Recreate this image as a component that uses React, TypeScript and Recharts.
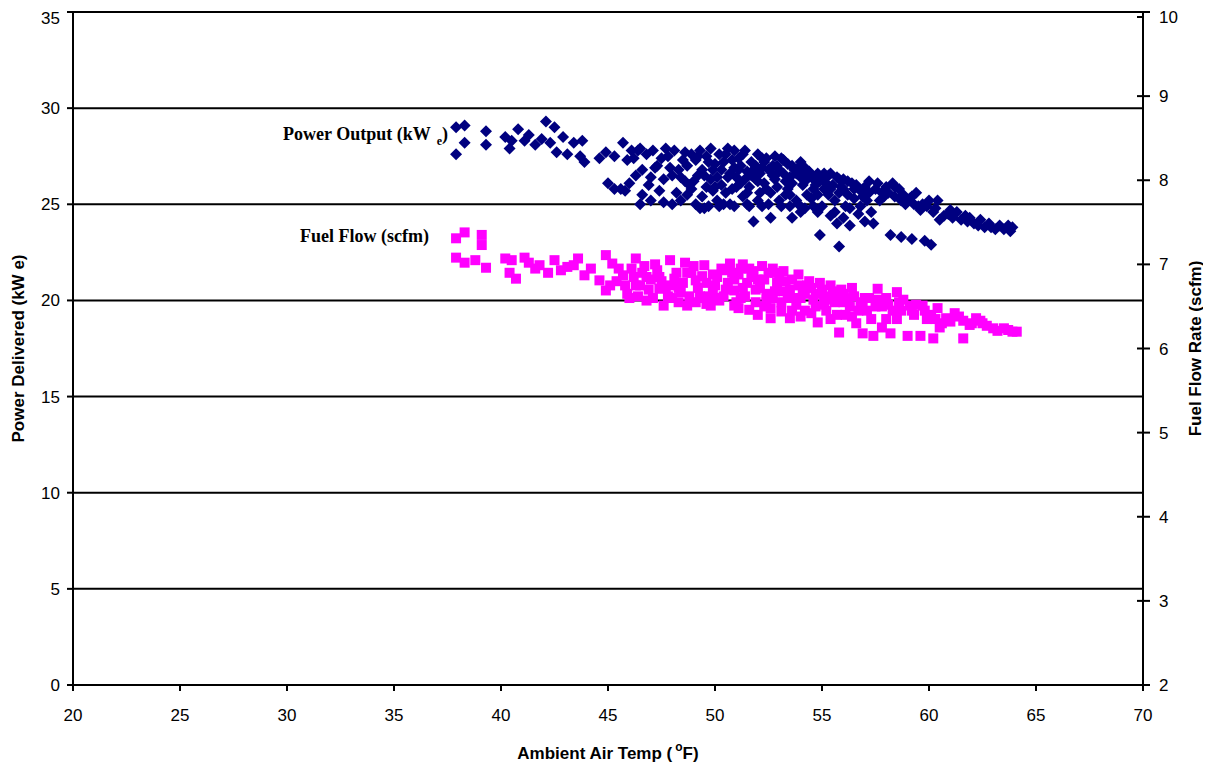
import { ScatterChart, Scatter, XAxis, YAxis, CartesianGrid, Label } from 'recharts';

// ambient temp (F), power delivered (kWe)
const powerOutput: [number, number][] = [
  [37.9, 29.0], [38.3, 29.1], [38.3, 28.2], [37.9, 27.6], [39.3, 28.8], [39.3, 28.1],
  [40.2, 28.5], [40.5, 28.3], [40.8, 28.9], [40.4, 27.9], [41.1, 28.3], [41.3, 28.6], [41.6, 28.1],
  [41.9, 28.4], [42.1, 29.3], [42.3, 28.2], [42.5, 29.0], [42.6, 27.7], [42.9, 28.5], [43.1, 27.6],
  [43.4, 28.2], [43.7, 27.5], [43.8, 28.3], [43.9, 27.2],
  [44.6, 27.4], [44.9, 27.7], [45.3, 27.5], [45.7, 28.2], [45.0, 26.1], [45.3, 25.8], [45.6, 25.8],
  [45.8, 25.7], [46.0, 26.1], [46.2, 27.4], [46.4, 27.8], [46.5, 27.9], [46.6, 26.8], [46.6, 25.5],
  [46.5, 25.0], [46.8, 27.6], [47.0, 26.4], [47.1, 27.8], [47.3, 27.0], [47.4, 25.7], [47.6, 25.1],
  [47.7, 27.9], [47.8, 27.5], [48.0, 26.5], [48.2, 25.6], [48.4, 25.2], [48.5, 27.3], [48.6, 26.2],
  [48.8, 26.0], [48.9, 27.6], [49.1, 25.0], [49.2, 26.5], [49.3, 27.8], [49.4, 26.8], [49.5, 24.8],
  [49.6, 25.9], [49.8, 27.9], [49.8, 26.3], [49.9, 25.7], [50.0, 27.1], [50.1, 25.2], [50.2, 27.6],
  [50.3, 26.0], [50.5, 27.6], [50.6, 26.4], [50.7, 25.0], [50.9, 27.8], [50.9, 26.9],
  [51.1, 27.4], [51.2, 26.1], [51.3, 25.4], [51.4, 27.8], [51.5, 26.7], [51.6, 24.9], [51.7, 27.2],
  [51.8, 24.1], [51.9, 26.3], [52.0, 27.6], [52.1, 25.6], [52.2, 26.9], [52.4, 27.4], [52.5, 25.0],
  [52.6, 24.3], [52.7, 26.5], [52.8, 27.5], [52.9, 25.9], [53.0, 26.8], [53.1, 24.9], [53.2, 27.3],
  [53.3, 26.2], [53.5, 25.5], [53.6, 24.3], [53.6, 27.0], [53.8, 26.6], [53.9, 25.0], [54.0, 27.2],
  [54.1, 26.0], [54.2, 24.8], [54.4, 26.7], [54.5, 25.3], [54.6, 26.3], [54.8, 26.6], [54.9, 23.4],
  [55.0, 26.4], [55.0, 24.9], [55.2, 26.1], [55.3, 25.5], [55.4, 26.6], [55.6, 24.6], [55.7, 24.0],
  [55.8, 26.3], [55.8, 22.8], [56.0, 25.8], [56.1, 24.9], [56.3, 23.9], [56.4, 26.1], [56.5, 25.3],
  [56.7, 24.5], [56.8, 25.7], [57.0, 24.1], [57.1, 25.2], [57.2, 26.2], [57.4, 24.0],
  [57.6, 26.1], [57.8, 25.6], [58.0, 25.9], [58.2, 23.4], [58.3, 26.1], [58.4, 25.4], [58.6, 25.8],
  [58.7, 23.3], [58.8, 25.5], [59.0, 25.2], [59.2, 23.2], [59.3, 25.0], [59.4, 25.6], [59.6, 24.7],
  [59.8, 23.1], [60.0, 25.2], [60.1, 22.9], [60.2, 24.6], [60.4, 25.2], [60.5, 24.2], [60.7, 24.4],
  [61.0, 24.7], [61.3, 24.6], [61.5, 24.2], [61.7, 24.4], [61.9, 24.3], [62.1, 24.0], [62.4, 24.2],
  [62.6, 23.8], [62.8, 24.0], [63.1, 23.7], [63.5, 23.7], [63.7, 23.9], [63.9, 23.8], [63.8, 23.6],
  [45.9, 27.3], [46.1, 27.8], [46.3, 26.5], [46.9, 26.0], [47.2, 26.9], [47.5, 27.4], [47.9, 26.9],
  [48.1, 27.8], [48.3, 26.8], [48.7, 25.5], [48.7, 27.0], [49.0, 26.2], [49.1, 27.3], [49.4, 25.4],
  [49.7, 27.2], [49.7, 24.9], [49.9, 26.8], [50.1, 26.4], [50.2, 24.9], [50.4, 27.2], [50.5, 25.6],
  [50.7, 26.6], [50.8, 27.3], [51.0, 25.9], [51.1, 26.8], [51.3, 27.6], [51.4, 26.3], [51.6, 25.9],
  [51.7, 26.5], [51.9, 27.0], [52.0, 25.2], [52.1, 26.6], [52.3, 27.2], [52.3, 26.1], [52.5, 26.8],
  [52.6, 25.6], [52.8, 26.3], [52.9, 27.0], [53.0, 25.2], [53.2, 26.6], [53.4, 27.1], [53.4, 25.8],
  [53.5, 26.4], [53.7, 26.8], [53.8, 25.2], [54.0, 26.4], [54.2, 26.9], [54.3, 25.5], [54.5, 26.5],
  [54.6, 24.9], [54.7, 26.0], [54.9, 26.2], [55.1, 25.8], [55.3, 26.5], [55.5, 26.0], [55.6, 25.2],
  [55.8, 25.6], [56.0, 26.3], [56.2, 25.5], [56.3, 24.8], [56.6, 26.0], [56.9, 25.4], [57.0, 25.9],
  [57.3, 24.6], [57.5, 25.8], [57.9, 25.4], [58.1, 25.6], [58.9, 25.0], [59.1, 25.3], [59.5, 24.9],
  [59.9, 24.9], [60.3, 24.8], [60.9, 24.5], [61.1, 24.3], [61.8, 24.1], [62.3, 23.9], [62.9, 23.8],
  [63.3, 23.9],
  [48.4, 26.4], [48.6, 27.7], [48.9, 25.8], [49.2, 27.5], [49.5, 26.5], [49.6, 27.5], [50.0, 25.9],
  [50.3, 26.8], [50.6, 27.9], [50.8, 25.8], [51.0, 26.4], [51.2, 27.0], [51.5, 25.6], [51.8, 26.8],
  [52.0, 26.2], [52.2, 27.4], [52.4, 25.8], [52.7, 27.0], [52.9, 26.6], [53.1, 27.4], [53.3, 25.5],
  [53.6, 26.1], [53.9, 26.9], [54.1, 26.6], [54.3, 26.3], [54.6, 25.8], [54.8, 25.5], [55.1, 26.6],
  [55.4, 25.8], [55.7, 26.4], [55.9, 25.9], [56.2, 26.2], [56.5, 25.8], [56.8, 24.9], [57.2, 25.6],
  [57.7, 25.2], [58.4, 25.9], [58.7, 25.2], [59.2, 25.4], [59.7, 25.0], [47.0, 25.2], [47.6, 26.3],
  [48.0, 25.0], [49.3, 24.8], [50.4, 25.0], [50.9, 24.9], [51.5, 25.0], [52.2, 24.9], [53.5, 24.9],
  [54.0, 24.6], [54.8, 24.6], [55.4, 24.4], [56.0, 24.3],
];

// ambient temp (F), fuel flow (scfm)
const fuelFlow: [number, number][] = [
  [37.9, 7.31], [38.3, 7.38], [39.1, 7.35], [39.1, 7.23], [37.9, 7.08], [38.3, 7.02], [38.8, 7.05],
  [39.3, 6.96], [40.2, 7.07], [40.5, 7.05], [40.4, 6.9], [40.7, 6.83], [41.1, 7.08], [41.3, 7.02],
  [41.6, 6.95], [41.8, 6.99], [42.2, 6.9], [42.5, 7.05], [42.8, 6.93], [43.1, 6.97], [43.4, 6.99],
  [43.6, 7.07], [43.9, 6.87], [44.2, 6.95],
  [44.6, 6.81], [44.9, 7.11], [45.2, 7.01], [44.9, 6.69], [45.4, 6.8], [45.7, 6.87], [45.9, 6.65],
  [46.1, 6.95], [46.3, 7.07], [46.5, 6.75], [46.6, 6.9], [46.8, 6.57], [47.0, 6.82], [47.3, 6.93],
  [47.4, 6.71], [47.6, 6.51], [47.8, 6.62], [47.9, 7.05], [48.1, 6.83], [48.3, 6.55], [48.4, 6.67],
  [48.6, 7.02], [48.7, 6.51], [48.9, 6.9], [49.1, 6.81], [49.3, 6.62], [49.5, 6.99], [49.6, 6.53],
  [49.8, 6.51], [49.9, 6.88], [50.0, 6.75], [50.2, 6.57], [50.3, 6.95], [50.5, 6.93], [50.7, 7.01],
  [50.9, 6.69], [50.9, 6.51],
  [51.1, 6.88], [51.2, 6.6], [51.3, 7.0], [51.5, 6.78], [51.6, 6.46], [51.8, 6.92], [51.9, 6.7],
  [52.0, 6.4], [52.2, 6.98], [52.3, 6.82], [52.4, 6.55], [52.6, 6.36], [52.7, 6.95], [52.8, 6.68],
  [53.0, 6.86], [53.1, 6.44], [53.2, 6.92], [53.4, 6.6], [53.5, 6.36], [53.6, 6.82], [53.8, 6.52],
  [53.9, 6.88], [54.1, 6.7], [54.2, 6.45], [54.4, 6.8], [54.6, 6.58], [54.8, 6.31], [54.9, 6.78],
  [55.1, 6.62], [55.2, 6.45], [55.4, 6.75], [55.6, 6.55], [55.8, 6.19], [55.9, 6.7], [56.1, 6.4],
  [56.2, 6.6], [56.4, 6.72], [56.6, 6.3], [56.8, 6.55], [56.9, 6.18], [57.1, 6.45], [57.2, 6.6],
  [57.4, 6.15], [57.6, 6.71], [57.8, 6.5], [58.0, 6.35], [58.2, 6.18], [58.5, 6.67], [58.7, 6.45],
  [59.0, 6.15], [59.1, 6.51], [59.3, 6.4], [59.6, 6.15], [59.7, 6.51], [59.9, 6.35], [60.2, 6.12],
  [60.4, 6.48], [60.6, 6.3], [60.8, 6.36], [61.2, 6.42], [61.6, 6.33], [61.6, 6.12], [62.0, 6.3],
  [62.2, 6.36], [62.7, 6.27], [63.2, 6.21], [63.5, 6.24], [63.9, 6.2], [64.1, 6.2],
  [45.1, 6.75], [45.5, 6.95], [45.8, 6.75], [46.0, 6.6], [46.2, 6.85], [46.4, 6.62], [46.7, 6.98],
  [46.9, 6.7], [47.1, 6.6], [47.2, 7.0], [47.5, 6.8], [47.7, 6.72], [48.0, 6.6], [48.2, 6.9],
  [48.5, 6.78], [48.8, 6.62], [49.0, 6.98], [49.2, 6.72], [49.4, 6.86], [49.7, 6.62], [49.9, 6.7],
  [50.1, 6.85], [50.4, 6.62], [50.6, 6.78], [50.8, 6.9], [51.0, 6.55], [51.2, 6.95], [51.4, 6.62],
  [51.7, 6.85], [51.9, 6.55], [52.1, 6.72], [52.3, 6.5], [52.5, 6.9], [52.7, 6.6], [52.9, 6.78],
  [53.1, 6.55], [53.3, 6.8], [53.5, 6.7], [53.7, 6.6], [53.9, 6.75], [54.0, 6.38], [54.2, 6.65],
  [54.5, 6.72], [54.7, 6.5], [55.0, 6.7], [55.3, 6.58], [55.5, 6.68], [55.7, 6.4], [56.0, 6.65],
  [56.3, 6.5], [56.5, 6.62], [56.7, 6.45], [57.0, 6.6], [57.3, 6.35], [57.5, 6.5], [58.0, 6.6],
  [58.3, 6.45], [58.8, 6.58], [59.4, 6.52], [59.8, 6.45], [60.1, 6.4], [60.5, 6.25], [61.0, 6.32],
  [61.9, 6.28], [62.5, 6.3], [63.0, 6.24], [63.7, 6.22],
  [46.3, 6.75], [46.8, 6.85], [47.4, 6.85], [47.9, 6.75], [48.3, 6.72], [48.7, 6.9], [49.1, 6.55],
  [49.6, 6.78], [50.0, 6.6], [50.5, 6.7], [50.9, 6.82], [51.3, 6.72], [51.6, 6.95], [52.0, 6.82],
  [52.4, 6.65], [52.8, 6.9], [53.2, 6.68], [53.6, 6.45], [54.0, 6.6], [54.3, 6.75], [54.7, 6.65],
  [55.1, 6.52], [55.6, 6.62], [56.0, 6.55], [56.4, 6.38], [56.9, 6.52], [57.6, 6.58], [58.1, 6.52],
  [58.6, 6.55], [59.2, 6.45], [49.5, 6.6], [51.1, 6.48], [52.6, 6.48], [54.5, 6.42], [55.4, 6.35],
  [57.8, 6.25], [58.5, 6.35], [60.3, 6.35], [61.4, 6.38], [62.4, 6.33],
];

const tempTicks = [20, 25, 30, 35, 40, 45, 50, 55, 60, 65, 70];
const powerTicks = [0, 5, 10, 15, 20, 25, 30, 35];
const flowTicks = [2, 3, 4, 5, 6, 7, 8, 9, 10];

const powerData = powerOutput.map(([t, v]) => ({ temp: t, value: v }));
const fuelData = fuelFlow.map(([t, v]) => ({ temp: t, value: v }));

const FONT = 'Arial, "Liberation Sans", sans-serif';
const SERIF = '"Times New Roman", "Liberation Serif", serif';

const Diamond = (props: any) => {
  const { cx, cy } = props;
  const r = 6;
  return <path d={`M${cx},${cy - r}L${cx + r},${cy}L${cx},${cy + r}L${cx - r},${cy}Z`} fill="#000080" />;
};

const Square = (props: any) => {
  const { cx, cy } = props;
  return <rect x={cx - 5} y={cy - 5} width={10} height={10} fill="#FF00FF" />;
};

// right axis ticks cross the axis line
const RightTick = (props: any) => {
  const { x, y, payload } = props;
  const axisX = x - 16;
  return (
    <g>
      <line x1={axisX - 6} x2={axisX} y1={y} y2={y} stroke="#000" strokeWidth={2} />
      <text x={x} y={y} dy="0.355em" fontSize={17} fontFamily={FONT} fill="#000">
        {payload.value}
      </text>
    </g>
  );
};

export default function App() {
  return (
    <div style={{ position: 'relative', width: 1203, height: 759 }}>
      <ScatterChart width={1203} height={759} margin={{ top: 4, right: 18, bottom: 42, left: 15 }}>
        <CartesianGrid yAxisId="left" vertical={false} stroke="#000" strokeWidth={2} strokeOpacity={1} />
        <XAxis
          type="number"
          dataKey="temp"
          domain={[20, 70]}
          ticks={tempTicks}
          height={40}
          allowDataOverflow
          axisLine={{ stroke: '#000', strokeWidth: 2 }}
          tickLine={{ stroke: '#000', strokeWidth: 2 }}
          tickSize={6}
          tickMargin={18}
          tick={{ fill: '#000', fontSize: 17, fontFamily: FONT }}
        >
          <Label
            content={({ viewBox }: any) => (
              <text
                x={viewBox.x + viewBox.width / 2}
                y={viewBox.y + viewBox.height + 34}
                textAnchor="middle"
                fontSize={17}
                fontWeight="bold"
                fontFamily={FONT}
                fill="#000"
              >
                Ambient Air Temp (
                <tspan fontSize={12} dx={3} dy={-8}>o</tspan>
                <tspan dy={8}>F)</tspan>
              </text>
            )}
          />
        </XAxis>
        <YAxis
          yAxisId="left"
          type="number"
          dataKey="value"
          domain={[0, 35]}
          ticks={powerTicks}
          width={50}
          allowDataOverflow
          axisLine={{ stroke: '#000', strokeWidth: 2 }}
          tickLine={{ stroke: '#000', strokeWidth: 2 }}
          tickSize={6}
          tickMargin={7}
          tick={{ fill: '#000', fontSize: 17, fontFamily: FONT }}
        >
          <Label
            content={({ viewBox }: any) => {
              const cx = viewBox.x - 5;
              const cy = viewBox.y + viewBox.height / 2;
              return (
                <text
                  x={cx}
                  y={cy}
                  transform={`rotate(-90 ${cx} ${cy})`}
                  textAnchor="middle"
                  dominantBaseline="central"
                  fontSize={17}
                  fontWeight="bold"
                  fontFamily={FONT}
                  fill="#000"
                >
                  Power Delivered (kW e)
                </text>
              );
            }}
          />
        </YAxis>
        <YAxis
          yAxisId="right"
          orientation="right"
          type="number"
          dataKey="value"
          domain={[2, 10]}
          ticks={flowTicks}
          width={50}
          allowDataOverflow
          axisLine={{ stroke: '#000', strokeWidth: 2 }}
          tickLine={{ stroke: '#000', strokeWidth: 2 }}
          tickSize={7}
          tickMargin={9}
          tick={<RightTick />}
        >
          <Label
            content={({ viewBox }: any) => {
              const cx = viewBox.x + viewBox.width + 2;
              const cy = viewBox.y + viewBox.height / 2;
              return (
                <text
                  x={cx}
                  y={cy}
                  transform={`rotate(-90 ${cx} ${cy})`}
                  textAnchor="middle"
                  dominantBaseline="central"
                  fontSize={17}
                  fontWeight="bold"
                  fontFamily={FONT}
                  fill="#000"
                >
                  Fuel Flow Rate (scfm)
                </text>
              );
            }}
          />
        </YAxis>
        <Scatter
          name="Power Output"
          data={powerData}
          yAxisId="left"
          fill="#000080"
          shape={<Diamond />}
          isAnimationActive={false}
        />
        <Scatter
          name="Fuel Flow"
          data={fuelData}
          yAxisId="right"
          fill="#FF00FF"
          shape={<Square />}
          isAnimationActive={false}
        />
      </ScatterChart>
      <svg
        width={1203}
        height={759}
        style={{ position: 'absolute', left: 0, top: 0, pointerEvents: 'none' }}
      >
        <text x={275} y={132} fontSize={18} fontWeight="bold" fontFamily={SERIF} fill="#000">
          Power Output (kW
          <tspan dx={6} dy={5} fontSize={12}>e</tspan>
          <tspan dy={-5}>)</tspan>
        </text>
        <text x={292} y={234} fontSize={18} fontWeight="bold" fontFamily={SERIF} fill="#000">
          Fuel Flow (scfm)
        </text>
      </svg>
    </div>
  );
}
